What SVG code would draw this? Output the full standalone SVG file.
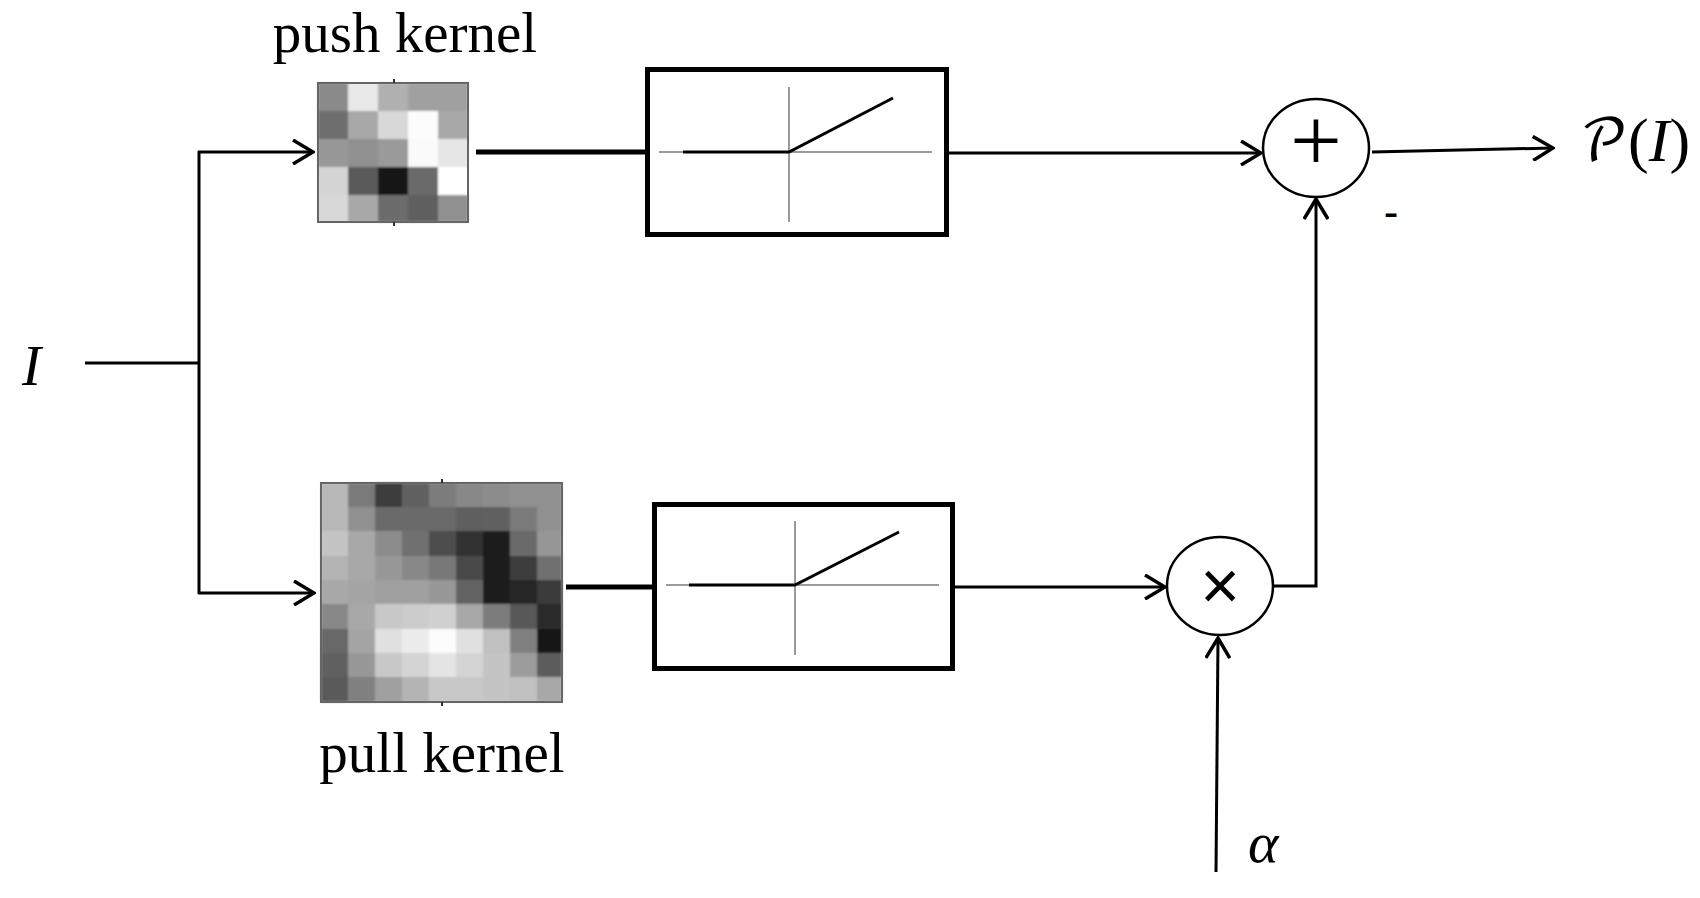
<svg xmlns="http://www.w3.org/2000/svg" width="1700" height="898" viewBox="0 0 1700 898">
<style>
.t{font-family:"Liberation Serif","Times New Roman",serif;fill:#000}
.it{font-style:italic}
.ln{stroke:#000;stroke-width:3;fill:none}
.thick{stroke:#000;stroke-width:5;fill:none}
.box{stroke:#000;stroke-width:5;fill:#fff}
.axis{stroke:#9a9a9a;stroke-width:2}
.relu{stroke:#000;stroke-width:3;fill:none}
.circ{stroke:#000;stroke-width:2.5;fill:#fff}
.kb{fill:none;stroke:#666;stroke-width:2}
.tick{stroke:#333;stroke-width:2}
</style>
<defs>
<marker id="arr" viewBox="0 0 24 26" refX="22" refY="13" markerWidth="24" markerHeight="26" markerUnits="userSpaceOnUse" orient="auto">
<path d="M2,1 L22,13 L2,25" fill="none" stroke="#000" stroke-width="3.5"/>
</marker>
<filter id="soft" x="-5%" y="-5%" width="110%" height="110%"><feGaussianBlur stdDeviation="1.3"/></filter>
</defs>
<rect width="1700" height="898" fill="#fff"/>

<g id="connectors">
<line class="ln" x1="85" y1="363" x2="199" y2="363"/>
<line class="ln" x1="199" y1="151" x2="199" y2="594"/>
<line class="ln" x1="198" y1="152" x2="313" y2="152" marker-end="url(#arr)"/>
<line class="ln" x1="198" y1="593" x2="314" y2="593" marker-end="url(#arr)"/>
<line class="thick" x1="476" y1="152" x2="645" y2="152"/>
<line class="ln" x1="949" y1="153" x2="1261" y2="153" marker-end="url(#arr)"/>
<line class="ln" x1="1372" y1="152" x2="1553" y2="148" marker-end="url(#arr)"/>
<line class="thick" x1="566" y1="587" x2="652" y2="587"/>
<line class="ln" x1="955" y1="587" x2="1165" y2="587" marker-end="url(#arr)"/>
<path class="ln" d="M1273,586 H1316 V199" marker-end="url(#arr)"/>
<line class="ln" x1="1216" y1="872" x2="1218" y2="638" marker-end="url(#arr)"/>
</g>

<g id="input-I">
<text class="t it" x="22" y="385" font-size="57">I</text>
</g>

<g id="push-kernel">
<text class="t" x="405" y="52" font-size="57" text-anchor="middle">push kernel</text>
<g filter="url(#soft)">
<rect x="318" y="83" width="30" height="28" fill="#8a8a8a"/>
<rect x="348" y="83" width="30" height="28" fill="#e8e8e8"/>
<rect x="378" y="83" width="30" height="28" fill="#b0b0b0"/>
<rect x="408" y="83" width="30" height="28" fill="#a0a0a0"/>
<rect x="438" y="83" width="30" height="28" fill="#a0a0a0"/>
<rect x="318" y="111" width="30" height="28" fill="#6e6e6e"/>
<rect x="348" y="111" width="30" height="28" fill="#a8a8a8"/>
<rect x="378" y="111" width="30" height="28" fill="#d8d8d8"/>
<rect x="408" y="111" width="30" height="28" fill="#fcfcfc"/>
<rect x="438" y="111" width="30" height="28" fill="#a8a8a8"/>
<rect x="318" y="139" width="30" height="28" fill="#989898"/>
<rect x="348" y="139" width="30" height="28" fill="#909090"/>
<rect x="378" y="139" width="30" height="28" fill="#9a9a9a"/>
<rect x="408" y="139" width="30" height="28" fill="#fafafa"/>
<rect x="438" y="139" width="30" height="28" fill="#e6e6e6"/>
<rect x="318" y="167" width="30" height="28" fill="#d4d4d4"/>
<rect x="348" y="167" width="30" height="28" fill="#5a5a5a"/>
<rect x="378" y="167" width="30" height="28" fill="#141414"/>
<rect x="408" y="167" width="30" height="28" fill="#6a6a6a"/>
<rect x="438" y="167" width="30" height="28" fill="#ffffff"/>
<rect x="318" y="195" width="30" height="27" fill="#d8d8d8"/>
<rect x="348" y="195" width="30" height="27" fill="#a8a8a8"/>
<rect x="378" y="195" width="30" height="27" fill="#6c6c6c"/>
<rect x="408" y="195" width="30" height="27" fill="#5e5e5e"/>
<rect x="438" y="195" width="30" height="27" fill="#909090"/>
</g>
<rect class="kb" x="318" y="83" width="150" height="139"/>
<line class="tick" x1="394" y1="79" x2="394" y2="83"/>
<line class="tick" x1="394" y1="222" x2="394" y2="226"/>
</g>

<g id="pull-kernel">
<g filter="url(#soft)">
<rect x="321" y="483" width="27" height="25" fill="#b8b8b8"/><rect x="348" y="483" width="27" height="25" fill="#7a7a7a"/><rect x="375" y="483" width="27" height="25" fill="#3c3c3c"/><rect x="402" y="483" width="27" height="25" fill="#606060"/><rect x="429" y="483" width="27" height="25" fill="#7c7c7c"/><rect x="456" y="483" width="27" height="25" fill="#888888"/><rect x="483" y="483" width="27" height="25" fill="#8c8c8c"/><rect x="510" y="483" width="27" height="25" fill="#909090"/><rect x="537" y="483" width="25" height="25" fill="#909090"/>
<rect x="321" y="507" width="27" height="25" fill="#b8b8b8"/><rect x="348" y="507" width="27" height="25" fill="#909090"/><rect x="375" y="507" width="27" height="25" fill="#6a6a6a"/><rect x="402" y="507" width="27" height="25" fill="#6a6a6a"/><rect x="429" y="507" width="27" height="25" fill="#6a6a6a"/><rect x="456" y="507" width="27" height="25" fill="#5e5e5e"/><rect x="483" y="507" width="27" height="25" fill="#606060"/><rect x="510" y="507" width="27" height="25" fill="#7a7a7a"/><rect x="537" y="507" width="25" height="25" fill="#909090"/>
<rect x="321" y="531" width="27" height="25" fill="#c4c4c4"/><rect x="348" y="531" width="27" height="25" fill="#a8a8a8"/><rect x="375" y="531" width="27" height="25" fill="#8c8c8c"/><rect x="402" y="531" width="27" height="25" fill="#707070"/><rect x="429" y="531" width="27" height="25" fill="#4e4e4e"/><rect x="456" y="531" width="27" height="25" fill="#303030"/><rect x="483" y="531" width="27" height="25" fill="#1c1c1c"/><rect x="510" y="531" width="27" height="25" fill="#6a6a6a"/><rect x="537" y="531" width="25" height="25" fill="#969696"/>
<rect x="321" y="556" width="27" height="25" fill="#b4b4b4"/><rect x="348" y="556" width="27" height="25" fill="#a8a8a8"/><rect x="375" y="556" width="27" height="25" fill="#989898"/><rect x="402" y="556" width="27" height="25" fill="#888888"/><rect x="429" y="556" width="27" height="25" fill="#787878"/><rect x="456" y="556" width="27" height="25" fill="#4a4a4a"/><rect x="483" y="556" width="27" height="25" fill="#1c1c1c"/><rect x="510" y="556" width="27" height="25" fill="#3c3c3c"/><rect x="537" y="556" width="25" height="25" fill="#707070"/>
<rect x="321" y="580" width="27" height="25" fill="#a8a8a8"/><rect x="348" y="580" width="27" height="25" fill="#a4a4a4"/><rect x="375" y="580" width="27" height="25" fill="#a0a0a0"/><rect x="402" y="580" width="27" height="25" fill="#a0a0a0"/><rect x="429" y="580" width="27" height="25" fill="#989898"/><rect x="456" y="580" width="27" height="25" fill="#646464"/><rect x="483" y="580" width="27" height="25" fill="#1c1c1c"/><rect x="510" y="580" width="27" height="25" fill="#282828"/><rect x="537" y="580" width="25" height="25" fill="#3a3a3a"/>
<rect x="321" y="604" width="27" height="25" fill="#888888"/><rect x="348" y="604" width="27" height="25" fill="#a8a8a8"/><rect x="375" y="604" width="27" height="25" fill="#c8c8c8"/><rect x="402" y="604" width="27" height="25" fill="#cccccc"/><rect x="429" y="604" width="27" height="25" fill="#d0d0d0"/><rect x="456" y="604" width="27" height="25" fill="#a8a8a8"/><rect x="483" y="604" width="27" height="25" fill="#7c7c7c"/><rect x="510" y="604" width="27" height="25" fill="#585858"/><rect x="537" y="604" width="25" height="25" fill="#2c2c2c"/>
<rect x="321" y="629" width="27" height="25" fill="#686868"/><rect x="348" y="629" width="27" height="25" fill="#a4a4a4"/><rect x="375" y="629" width="27" height="25" fill="#e0e0e0"/><rect x="402" y="629" width="27" height="25" fill="#ececec"/><rect x="429" y="629" width="27" height="25" fill="#fcfcfc"/><rect x="456" y="629" width="27" height="25" fill="#e0e0e0"/><rect x="483" y="629" width="27" height="25" fill="#c0c0c0"/><rect x="510" y="629" width="27" height="25" fill="#808080"/><rect x="537" y="629" width="25" height="25" fill="#181818"/>
<rect x="321" y="653" width="27" height="25" fill="#606060"/><rect x="348" y="653" width="27" height="25" fill="#989898"/><rect x="375" y="653" width="27" height="25" fill="#c8c8c8"/><rect x="402" y="653" width="27" height="25" fill="#d4d4d4"/><rect x="429" y="653" width="27" height="25" fill="#e4e4e4"/><rect x="456" y="653" width="27" height="25" fill="#d4d4d4"/><rect x="483" y="653" width="27" height="25" fill="#c4c4c4"/><rect x="510" y="653" width="27" height="25" fill="#9c9c9c"/><rect x="537" y="653" width="25" height="25" fill="#5c5c5c"/>
<rect x="321" y="677" width="27" height="25" fill="#5a5a5a"/><rect x="348" y="677" width="27" height="25" fill="#808080"/><rect x="375" y="677" width="27" height="25" fill="#a0a0a0"/><rect x="402" y="677" width="27" height="25" fill="#b4b4b4"/><rect x="429" y="677" width="27" height="25" fill="#c8c8c8"/><rect x="456" y="677" width="27" height="25" fill="#c8c8c8"/><rect x="483" y="677" width="27" height="25" fill="#c4c4c4"/><rect x="510" y="677" width="27" height="25" fill="#c0c0c0"/><rect x="537" y="677" width="25" height="25" fill="#a8a8a8"/>
</g>
<rect class="kb" x="321" y="483" width="241" height="219" stroke="#555"/>
<line class="tick" x1="442" y1="479" x2="442" y2="483"/>
<line class="tick" x1="442" y1="702" x2="442" y2="706"/>
<text class="t" x="442" y="772" font-size="57" text-anchor="middle">pull kernel</text>
</g>

<g id="relu-push">
<rect class="box" x="647.5" y="69.5" width="299" height="165"/>
<line class="axis" x1="659" y1="152" x2="932" y2="152"/>
<line class="axis" x1="789" y1="87" x2="789" y2="222"/>
<polyline class="relu" points="683,152 789,152 893,98"/>
</g>

<g id="relu-pull">
<rect class="box" x="654.5" y="504.5" width="298" height="164"/>
<line class="axis" x1="666" y1="585" x2="939" y2="585"/>
<line class="axis" x1="795" y1="521" x2="795" y2="655"/>
<polyline class="relu" points="689,585 795,585 899,532"/>
</g>

<g id="sum">
<ellipse class="circ" cx="1316" cy="148" rx="53" ry="49"/>
<text class="t" x="1316" y="171" font-size="92" text-anchor="middle">+</text>
<text x="1391" y="227" font-size="44" font-family="Liberation Sans, Arial, sans-serif" text-anchor="middle">-</text>
</g>

<g id="product">
<ellipse class="circ" cx="1220" cy="586" rx="53" ry="49"/>
<text x="1220" y="609" font-size="68" font-family="Liberation Sans, Arial, sans-serif" text-anchor="middle">×</text>
</g>

<g id="alpha">
<text class="t it" x="1248" y="862" font-size="58">α</text>
</g>

<g id="output">
<text class="t" x="1580" y="161" font-size="62"><tspan font-size="57" font-family="DejaVu Math TeX Gyre, DejaVu Serif, DejaVu Sans, serif">𝒫</tspan>(<tspan font-style="italic">I</tspan>)</text>
</g>
</svg>
